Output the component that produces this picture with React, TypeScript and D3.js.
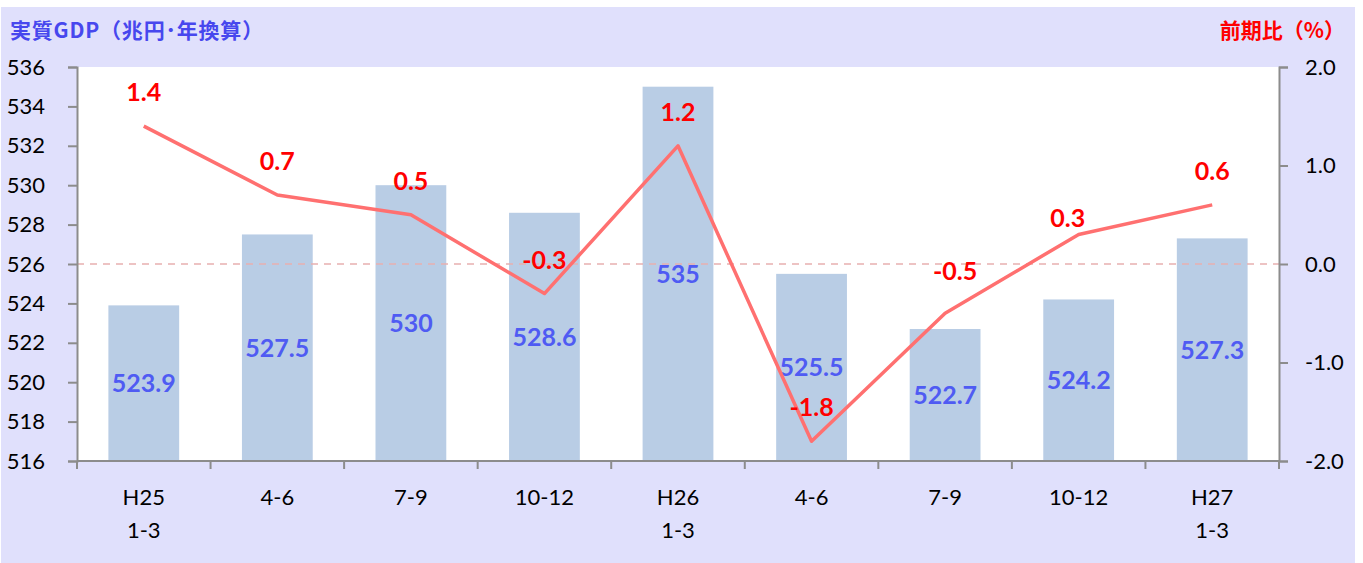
import React, { useEffect, useRef } from "react";
import * as d3 from "d3";

const categories = ["H25\n1-3", "4-6", "7-9", "10-12", "H26\n1-3", "4-6", "7-9", "10-12", "H27\n1-3"];
const gdpValues = [523.9, 527.5, 530, 528.6, 535, 525.5, 522.7, 524.2, 527.3];
const changeValues = [1.4, 0.7, 0.5, -0.3, 1.2, -1.8, -0.5, 0.3, 0.6];
const leftTicks = [516, 518, 520, 522, 524, 526, 528, 530, 532, 534, 536];
const rightTicks = [-2, -1, 0, 1, 2];

const W = 1363;
const H = 563;

const App: React.FC = () => {
  const svgRef = useRef<SVGSVGElement>(null);

  useEffect(() => {
    if (!svgRef.current) return;
    const svg = d3.select(svgRef.current);
    svg.selectAll("*").remove();

    const plot = { left: 77, right: 1279, top: 67, bottom: 461 };
    const font = "Lato, 'Noto Sans', sans-serif";
    const axisColor = "#8c8c8c";
    const hyphen = (s: string) => s.replace("\u2212", "-");

    // background panel
    svg.append("rect").attr("x", 1).attr("y", 7).attr("width", 1354).attr("height", 556).attr("fill", "#e0e0fc");
    svg
      .append("rect")
      .attr("x", plot.left)
      .attr("y", plot.top)
      .attr("width", plot.right - plot.left)
      .attr("height", plot.bottom - plot.top)
      .attr("fill", "#ffffff");

    const x = d3
      .scaleBand<string>()
      .domain(categories.map((_, i) => String(i)))
      .range([plot.left, plot.right])
      .paddingInner(0)
      .paddingOuter(0);
    const barW = x.bandwidth() * 0.53;
    const cx = (i: number) => x(String(i))! + x.bandwidth() / 2;

    const yL = d3.scaleLinear().domain([516, 536]).range([plot.bottom, plot.top]);
    const yR = d3.scaleLinear().domain([-2, 2]).range([plot.bottom, plot.top]);

    // bars
    svg
      .selectAll(".bar")
      .data(gdpValues)
      .enter()
      .append("rect")
      .attr("class", "bar")
      .attr("x", (_, i) => cx(i) - barW / 2)
      .attr("y", (d) => yL(d))
      .attr("width", barW)
      .attr("height", (d) => plot.bottom - yL(d))
      .attr("fill", "#b9cde5");

    // zero line of the right axis
    svg
      .append("line")
      .attr("x1", plot.left)
      .attr("x2", plot.right)
      .attr("y1", yR(0))
      .attr("y2", yR(0))
      .attr("stroke", "#e8b0b0")
      .attr("stroke-width", 1.5)
      .attr("stroke-dasharray", "7,6");

    // left axis
    const gL = svg
      .append("g")
      .attr("transform", `translate(${plot.left},0)`)
      .call(d3.axisLeft(yL).tickValues(leftTicks).tickSize(9).tickPadding(23).tickFormat(d3.format("d")));
    // right axis
    const gR = svg
      .append("g")
      .attr("transform", `translate(${plot.right},0)`)
      .call(
        d3
          .axisRight(yR)
          .tickValues(rightTicks)
          .tickSize(9)
          .tickPadding(17)
          .tickFormat((d) => hyphen(d3.format(".1f")(d as number)))
      );
    // bottom axis, ticks at band edges
    const edges = d3.range(categories.length + 1).map((i) => plot.left + i * x.bandwidth());
    const gB = svg.append("g");
    gB.append("line")
      .attr("x1", plot.left)
      .attr("x2", plot.right)
      .attr("y1", plot.bottom)
      .attr("y2", plot.bottom);
    gB.selectAll(".xt")
      .data(edges)
      .enter()
      .append("line")
      .attr("class", "xt")
      .attr("x1", (d) => d)
      .attr("x2", (d) => d)
      .attr("y1", plot.bottom)
      .attr("y2", plot.bottom + 8);
    gB.selectAll("line").attr("stroke", axisColor).attr("stroke-width", 2);

    [gL, gR].forEach((g) => {
      g.select(".domain").attr("stroke", axisColor).attr("stroke-width", 2);
      g.selectAll(".tick line").attr("stroke", axisColor).attr("stroke-width", 2);
      g.selectAll(".tick text").attr("fill", "#000").attr("font-size", 22).attr("font-family", font);
    });
    gL.selectAll(".tick text").attr("text-anchor", "end");
    gR.selectAll(".tick text").attr("text-anchor", "start");

    // category labels
    categories.forEach((c, i) => {
      const t = svg
        .append("text")
        .attr("text-anchor", "middle")
        .attr("font-family", font)
        .attr("font-size", 22)
        .attr("fill", "#000");
      c.split("\n").forEach((ln, k) => {
        t.append("tspan")
          .attr("x", cx(i))
          .attr("y", 505 + k * 33)
          .text(ln);
      });
    });

    // bar value labels (centered in bar)
    svg
      .selectAll(".blab")
      .data(gdpValues)
      .enter()
      .append("text")
      .attr("x", (_, i) => cx(i))
      .attr("y", (d) => (yL(d) + plot.bottom) / 2)
      .attr("dy", "0.36em")
      .attr("text-anchor", "middle")
      .attr("font-family", font)
      .attr("font-weight", "bold")
      .attr("font-size", 25)
      .attr("fill", "#4f5bf3")
      .text((d) => String(d));

    // line
    const line = d3
      .line<number>()
      .x((_, i) => cx(i))
      .y((d) => yR(d));
    svg
      .append("path")
      .datum(changeValues)
      .attr("d", line)
      .attr("fill", "none")
      .attr("stroke", "#ff7070")
      .attr("stroke-width", 3.5)
      .attr("stroke-linejoin", "round");

    // line labels above points (a couple nudged like the original)
    const nudge: Record<number, [number, number]> = { 6: [10, -8], 7: [-11, 18] };
    svg
      .selectAll(".llab")
      .data(changeValues)
      .enter()
      .append("text")
      .attr("x", (_, i) => cx(i) + (nudge[i] ? nudge[i][0] : 0))
      .attr("y", (d, i) => yR(d) - 34 + (nudge[i] ? nudge[i][1] : 0))
      .attr("dy", "0.36em")
      .attr("text-anchor", "middle")
      .attr("font-family", font)
      .attr("font-weight", "bold")
      .attr("font-size", 25)
      .attr("fill", "#ff0000")
      .text((d) => d.toFixed(1));

    // axis titles
    svg
      .append("text")
      .attr("x", 10)
      .attr("y", 38)
      .attr("font-family", "'Noto Sans CJK JP', sans-serif")
      .attr("font-weight", "bold")
      .attr("font-size", 21)
      .attr("letter-spacing", 0.8)
      .attr("fill", "#4747ee")
      .text("実質GDP（兆円･年換算）");
    svg
      .append("text")
      .attr("x", 1345)
      .attr("y", 38)
      .attr("text-anchor", "end")
      .attr("font-family", "'Noto Sans CJK JP', sans-serif")
      .attr("font-weight", "bold")
      .attr("font-size", 21)
      .attr("fill", "#ff0000")
      .text("前期比（%）");
  }, []);

  return (
    <svg
      ref={svgRef}
      width={W}
      height={H}
      viewBox={`0 0 ${W} ${H}`}
      style={{ position: "absolute", left: 0, top: 0, background: "#fff" }}
    />
  );
};

export default App;
